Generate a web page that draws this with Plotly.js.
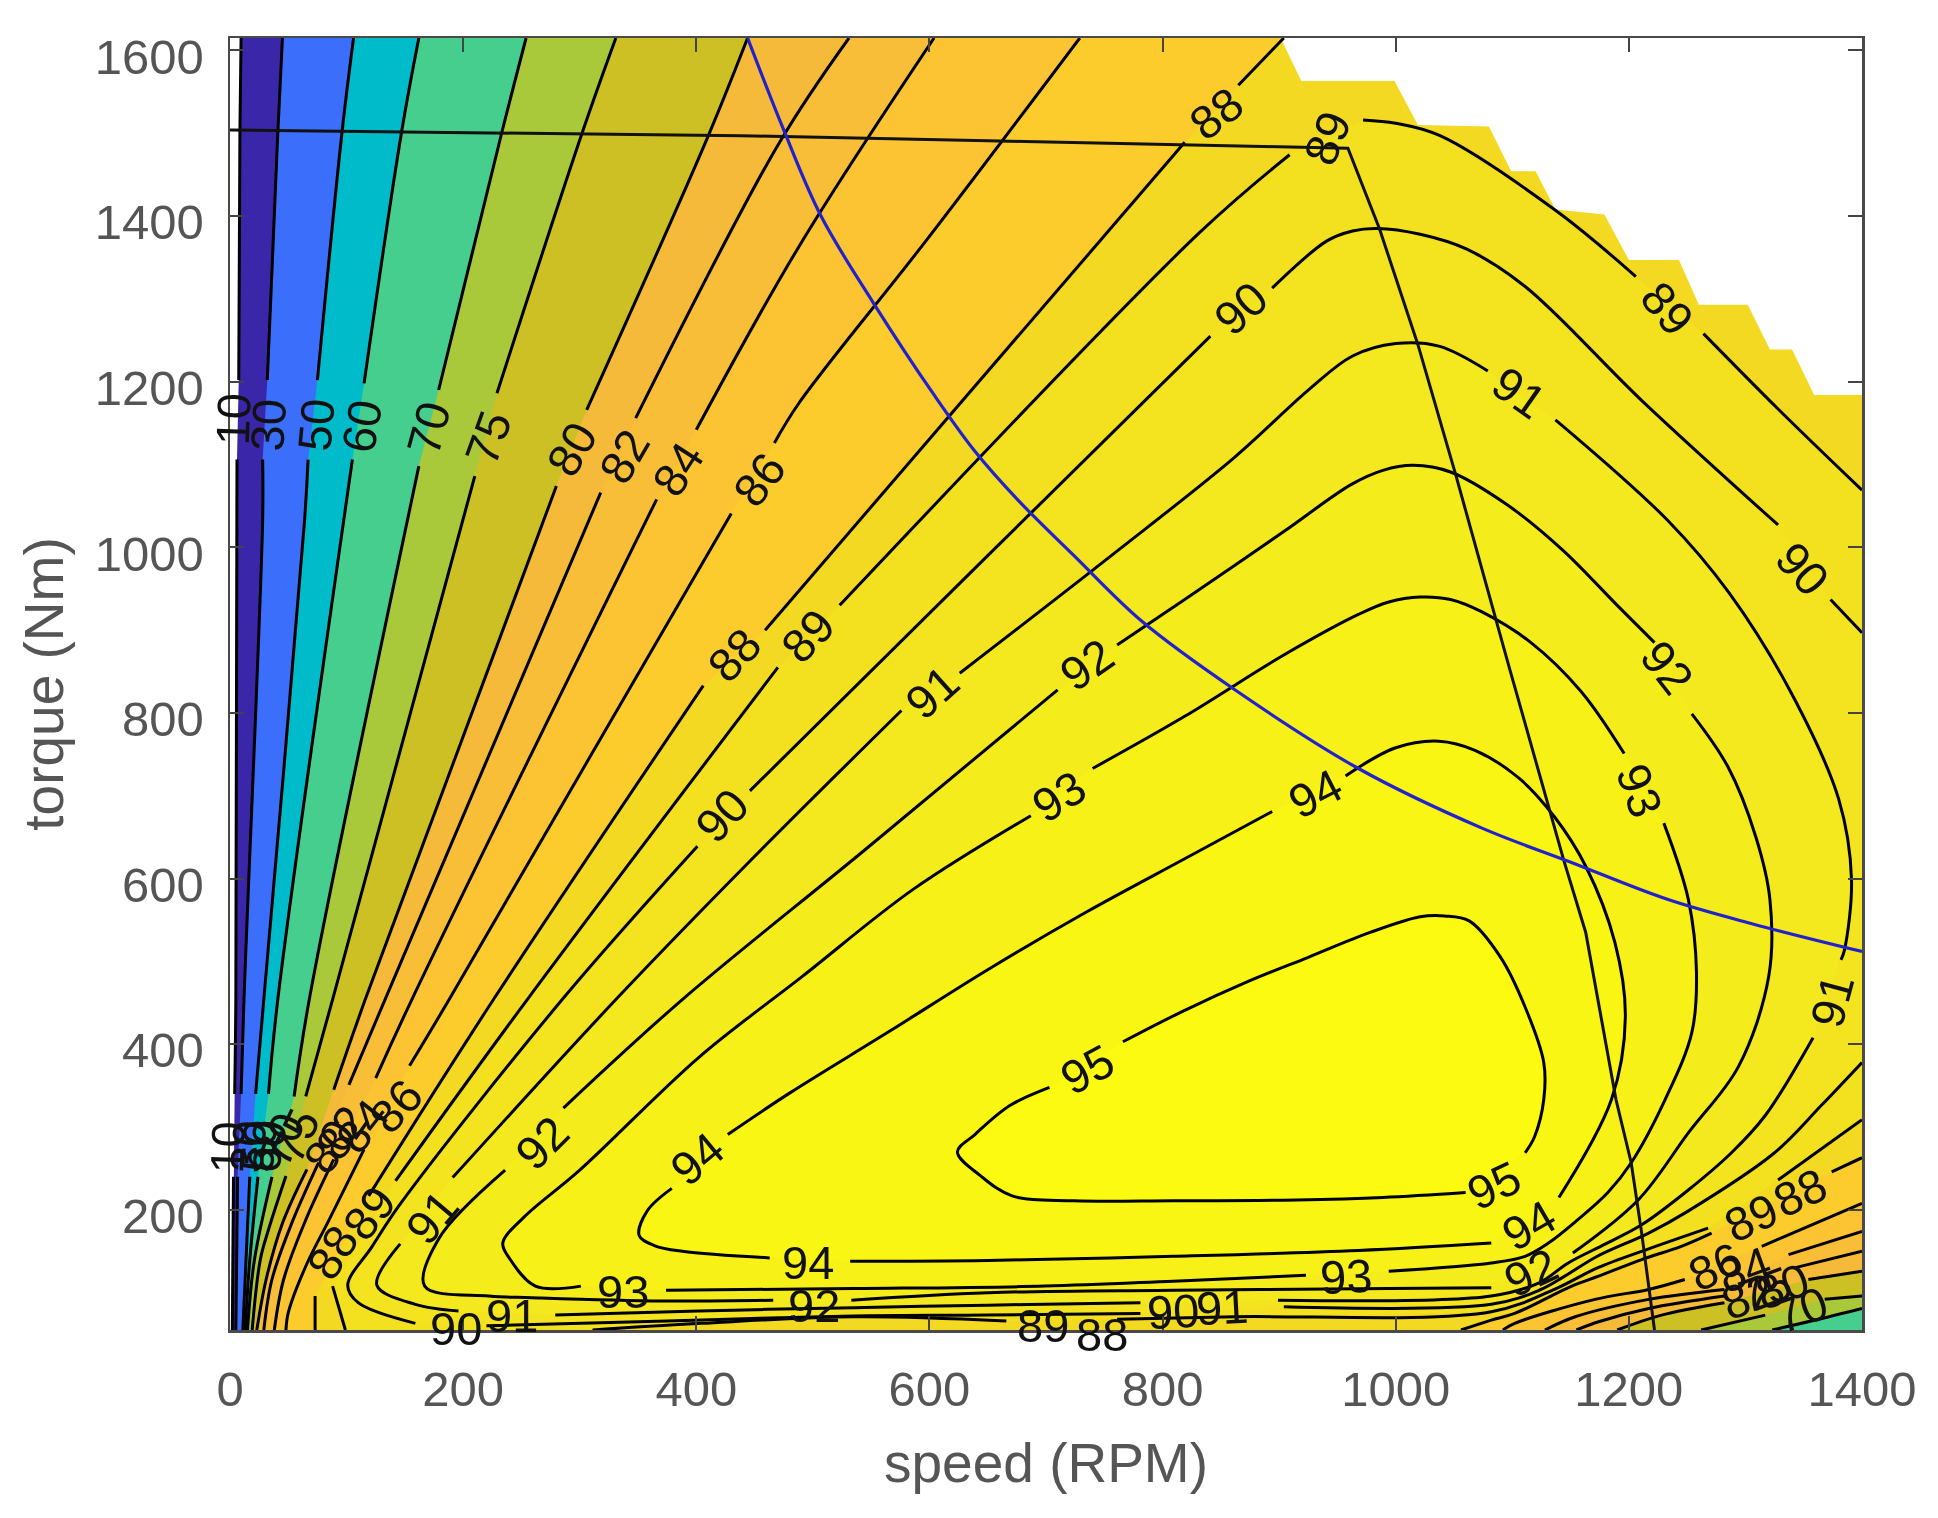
<!DOCTYPE html>
<html><head><meta charset="utf-8">
<script src="https://cdn.plot.ly/plotly-3.0.1.min.js"></script>
<style>html,body{margin:0;padding:0;background:#fff}#plot{width:1938px;height:1518px;filter:blur(0.7px)}</style>
</head><body><div id="plot"></div>
<script>
// Axis limits and ticks
const xRange=[0,1400], yRange=[55,1615];
const xTicks=[0,200,400,600,800,1000,1200,1400];
const yTicks=[200,400,600,800,1000,1200,1400,1600];

// Contour levels of efficiency (%), null = break for a contour label
const levels=[10,30,50,60,70,75,80,82,84,86,88,89,90,91,92,93,94,95];
const levelColors=['#3a26a8','#3b6ffb','#00bbc9','#45ce8e','#a9c83a','#cdc024','#f6ba3a','#f9be37','#fcc433','#fbcc2b','#f3d922','#f3e01f','#f3e41f','#f4e81e','#f5ec1c','#f7f118','#f9f613','#fbfa10'];

const x10=[2,3,null,4,5,6,null,7.5,8.5,9.5];
const y10=[55,240,null,340,454,1106,null,1202,1500,1615];
const x30=[5,6.5,null,9.5,12,28,28,null,32,41,45];
const y30=[55,240,null,340,454,1033,1106,null,1202,1500,1615];
const x50=[11,17,null,22,29,64,67,null,75,96,106];
const y50=[55,240,null,340,454,1033,1106,null,1202,1500,1615];
const x60=[13,17,24,null,33,41,105,null,115,147,162];
const y60=[55,140,240,null,340,454,1106,null,1198,1500,1615];
const x70=[15,21,36,null,55,68,162,null,179,233,254,null,1400,1360,1323];
const y70=[55,140,240,null,337,454,1098,null,1190,1500,1615,null,81,67,55];
const x75=[19,26,33,48,null,65,88,210,null,229,302,331,null,1400,1368,null,1317,1262];
const y75=[55,140,176,241,null,337,454,1086,null,1186,1500,1615,null,96,92,null,73,55];
const x80=[23,31,45,66,null,89,116,280,null,306,410,444,null,1400,1354,null,1282,1228,1190];
const y80=[55,116,184,249,null,345,454,1074,null,1166,1496,1615,null,126,116,null,88,73,55];
const x82=[29,36,53,76,null,102,133,318,null,348,471,531,null,1400,1342,null,1282,1217,1174,1155];
const y82=[55,116,184,257,null,351,454,1066,null,1156,1488,1615,null,150,130,null,96,81,65,55];
const x84=[38,46,65,89,null,125,156,366,null,400,488,604,null,1400,1337,null,1282,1217,1154,1128];
const y84=[55,116,188,261,null,359,454,1058,null,1142,1363,1615,null,174,146,null,104,92,71,55];
const x86=[48,50,65,85,115,null,154,188,430,null,467,488,597,729,null,1400,1314,null,1248,1217,1171,1102,1092];
const y86=[55,76,132,188,273,null,374,454,1041,null,1126,1174,1370,1615,null,208,156,null,116,104,92,63,55];
const x88=[73,73,null,119,226,406,null,459,819,null,865,904,null,1400,1374,null,1271,1245,1211,1174,1151,1102,1082,1056];
const y88=[55,96,null,217,454,833,null,900,1489,null,1558,1615,null,263,246,null,172,156,140,120,108,75,67,55];
const x89=[972,1000,1038,1137,1206,null,1264,1328,1400,null,1400,1328,null,1268,1217,1173,1139,1082,862,761,null,666,535,404,311,null,99,88,null,142,255,470,null,523,831,909];
const y89=[1516,1512,1497,1407,1327,null,1258,1167,1069,null,309,236,null,178,153,130,106,77,71,68,null,66,71,63,55,null,55,108,null,235,454,855,null,930,1379,1474];
const x90=[894,941,963,984,1021,1061,1111,1212,1328,null,1373,1400,null,1400,1365,1325,1249,1217,1173,1145,1123,1082,904,null,781,650,535,375,220,null,159,110,101,122,147,285,401,null,446,650,841];
const y90=[1313,1370,1382,1385,1378,1360,1315,1176,1027,null,937,897,null,378,326,269,197,172,144,120,103,86,83,null,75,73,72,66,60,null,63,88,109,156,209,454,639,null,706,990,1255];
const x91=[626,756,862,926,963,1000,1037,1079,null,1137,1233,1286,1339,1380,1391,1385,1382,null,1358,1317,1288,1251,1211,1180,1148,1123,1082,899,null,781,650,535,402,279,null,196,159,126,146,null,191,331,448,576];
const y91=[848,990,1109,1191,1231,1246,1243,1213,null,1154,1033,945,825,696,599,514,502,null,408,314,269,224,182,159,136,112,96,91,null,88,85,82,78,73,null,78,86,109,159,null,239,454,624,803];
const x92=[761,819,904,962,989,1015,1047,1095,1143,1190,1222,null,1254,1285,1309,1321,1320,1294,1251,1208,1152,null,1082,994,809,650,533,null,466,371,259,222,167,179,236,null,286,388,544,710];
const y92=[882,937,1019,1076,1093,1099,1091,1052,997,930,885,null,799,735,650,575,482,373,293,212,148,null,106,105,103,100,91,null,91,90,94,96,108,165,248,null,323,454,634,828];
const x93=[740,819,904,968,994,1021,1047,1074,1116,1159,1196,null,1230,1251,1258,1254,1231,1202,1182,1156,1131,1111,1082,994,null,923,809,699,535,374,null,301,262,240,234,252,300,402,491,586,687];
const y93=[733,796,870,919,934,940,937,922,885,826,751,null,667,575,487,414,333,257,221,188,160,144,136,126,null,121,114,108,105,103,null,108,108,141,160,191,248,384,482,587,676];
const x94=[957,1000,1037,1068,1106,1136,1163,1188,1197,1185,1140,null,1082,968,809,650,532,null,463,388,364,351,358,379,null,427,480,565,650,735,819,894];
const y94=[724,758,766,755,721,675,615,523,433,333,215,null,160,151,144,139,138,null,142,150,157,169,199,226,null,291,341,415,490,560,624,681];
const x95=[766,819,872,925,978,1021,1042,1063,1090,1111,1127,1127,1119,1111,null,1060,989,915,809,724,671,644,624,639,669,703];
const y95=[403,441,475,505,535,554,555,549,505,445,378,333,288,269,null,221,215,212,211,211,217,241,270,291,326,348];
const isoX=[x10,x30,x50,x60,x70,x75,x80,x82,x84,x86,x88,x89,x90,x91,x92,x93,x94,x95];
const isoY=[y10,y30,y50,y60,y70,y75,y80,y82,y84,y86,y88,y89,y90,y91,y92,y93,y94,y95];

// Contour labels
const labelText=['10','30','50','60','70','75','80','82','84','86','88','89','90','89','91','90','92','93','91','88','89','90','91','92','93','94','95','92','94','91','89','88','94','93','92','91','90','89','88','90','91','93','92','94','95','89','88','86','84','82','80','75','70','10','30','50','60','70','75','80','82','84','86'];
const labelX=[3,33,74,113,170,221,293,338,384,454,846,941,867,1233,1106,1349,1233,1209,1374,432,496,422,602,735,711,931,735,268,401,173,119,88,496,337,501,242,194,697,748,809,851,957,1116,1114,1084,1305,1347,1274,1299,1302,1331,1317,1348,-2,15,24,31,44,56,85,96,113,142];
const labelY=[1154,1148,1148,1146,1144,1132,1118,1110,1094,1082,1524,1494,1288,1288,1187,975,855,706,452,870,893,676,825,858,699,703,370,281,262,191,196,148,136,102,84,72,57,60,50,77,82,120,124,181,229,191,221,132,128,96,108,104,80,275,277,277,277,285,290,277,293,301,325];
const labelAngle=[-88,-87,-85,-80,-75,-70,-60,-60,-57,-53,-38,-68,-42,50,35,48,52,70,-75,-47,-47,-47,-42,-35,-32,-27,-28,-45,-40,-50,-52,-58,0,0,0,0,0,0,0,-3,-3,-3,-25,-30,-25,-25,-25,-25,-20,-20,-20,-20,-20,-88,-85,-85,-80,-70,-65,-55,-55,-52,-48];

// Torque limit staircase: nothing was mapped above it
const limitX=[902,919,999,1019,1080,1099,1120,1137,1179,1200,1243,1260,1302,1321,1340,1359,1400,1400,902];
const limitY=[1613,1563,1563,1510,1508,1454,1454,1408,1402,1347,1347,1293,1293,1239,1239,1184,1184,1615,1615];

// Blue constant power curve
const powerX=[444,475,507,552,604,639,676,724,782,862,968,1074,1148,1233,1307,1400];
const powerY=[1615,1504,1400,1295,1184,1116,1057,990,911,828,733,661,621,575,545,512];

// Black operating envelope
const envelopeX=[0,438,650,862,925,959,986,1019,1052,1097,1144,1163,1189,1202,1211,1222];
const envelopeY=[1504,1497,1491,1485,1483,1482,1385,1245,1085,857,623,535,333,257,172,55];

const traces=[];
levels.forEach((lev,i)=>{
  const px=[],py=[];
  let cornerDone=false;
  isoX[i].forEach((v,j)=>{
    if(v===null)return;
    px.push(v);py.push(isoY[i][j]);
    if(!cornerDone&&isoY[i][j]>=yRange[1]){px.push(xRange[1]);py.push(yRange[1]);cornerDone=true;}
  });
  if(lev<=60){px.push(xRange[1]);py.push(yRange[0]);}
  traces.push({type:'scatter',mode:'lines',x:px,y:py,fill:'toself',fillcolor:levelColors[i],line:{width:0,color:levelColors[i]},hoverinfo:'skip',showlegend:false});
});
traces.push({type:'scatter',mode:'lines',x:limitX,y:limitY,fill:'toself',fillcolor:'#ffffff',line:{width:0,color:'#ffffff'},hoverinfo:'skip',showlegend:false});
levels.forEach((lev,i)=>{
  traces.push({type:'scatter',mode:'lines',name:String(lev),x:isoX[i],y:isoY[i],line:{color:'#000',width:3,shape:'spline',smoothing:1},connectgaps:false,showlegend:false});
});
traces.push({type:'scatter',mode:'lines',x:envelopeX,y:envelopeY,line:{color:'#111',width:3},showlegend:false});
traces.push({type:'scatter',mode:'lines',x:powerX,y:powerY,line:{color:'#2222cc',width:3.2,shape:'spline',smoothing:1},showlegend:false});

// Labels near the frame are pinned to the axis limit and pushed out in pixels, because Plotly hides annotations outside the range
const pxPerX=1632/1400, pxPerY=1292/1560;
const annotations=labelText.map((t,i)=>{
  const ax=Math.max(labelX[i],xRange[0]), ay=Math.max(labelY[i],yRange[0]);
  return {x:ax,y:ay,xshift:(labelX[i]-ax)*pxPerX,yshift:(labelY[i]-ay)*pxPerY,text:t,textangle:labelAngle[i],showarrow:false,xanchor:'center',yanchor:'middle',font:{family:'Liberation Sans, Arial, sans-serif',size:47,color:'#111'}};
});

const axisBase={showgrid:false,zeroline:false,showline:true,mirror:'ticks',linecolor:'#4a4a4a',linewidth:2.5,ticks:'inside',ticklen:14,tickwidth:2,tickcolor:'#444',tickmode:'array',tickfont:{family:'Liberation Sans, Arial, sans-serif',size:49,color:'#555'}};
const layout={
  width:1938,height:1518,margin:{l:230,r:76,t:38,b:188},paper_bgcolor:'#fff',plot_bgcolor:'#fff',showlegend:false,
  xaxis:Object.assign({},axisBase,{range:xRange,tickvals:xTicks,ticktext:xTicks.map(String),ticklabelstandoff:15,title:{text:'speed (RPM)',font:{family:'Liberation Sans, Arial, sans-serif',size:55,color:'#555'},standoff:28}}),
  yaxis:Object.assign({},axisBase,{range:yRange,tickvals:yTicks,ticktext:yTicks.map(String),ticklabelstandoff:14,ticklabelshift:6,title:{text:'torque (Nm)',font:{family:'Liberation Sans, Arial, sans-serif',size:55,color:'#555'},standoff:14}}),
  annotations:annotations
};
Plotly.newPlot('plot',traces,layout,{staticPlot:true,displayModeBar:false});
</script></body></html>
